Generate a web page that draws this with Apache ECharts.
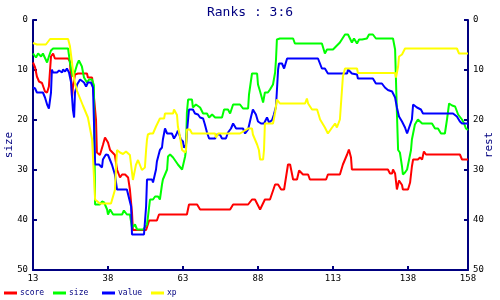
<!DOCTYPE html>
<html><head><meta charset="utf-8">
<script src="https://cdn.jsdelivr.net/npm/echarts@6/dist/echarts.min.js"></script>
<style>html,body{margin:0;padding:0;background:#fff}#c{width:500px;height:300px}</style>
</head><body><div id="c"></div>
<script>
const titleText = 'Ranks : 3:6';
const seriesNames = ['score', 'size', 'value', 'xp'];
const xTicks = [13, 38, 63, 88, 113, 138, 158];
const yTicks = [0, 10, 20, 30, 40, 50];

const scoreData = [[13,8.5],[13.7,9.5],[14.3,11.3],[15,12.3],[16,12.6],[16.3,12.6],[17,14.3],[17.7,14.5],[18.3,13.3],[19,7.3],[19.7,6.7],[20.3,7.7],[24.7,7.7],[25.3,8.3],[25.7,11.9],[26,15.5],[26.3,13.5],[27,10.9],[28,10.7],[31,10.7],[31.3,11.5],[32.7,11.5],[33,13.5],[33.3,15.3],[34,19.9],[34.3,26.5],[35.3,27],[36.3,25],[37,23.5],[38,24.5],[38.7,26],[40.3,27],[41,29.9],[42,31.5],[42.7,30.9],[43.7,30.9],[44.7,31.5],[45.3,33.9],[46,38.5],[46.3,42],[50.7,42],[51.3,41.9],[51.7,40.1],[54.3,40.1],[55,38.9],[64.3,38.9],[65,36.9],[67.7,36.9],[68.7,37.9],[78.7,37.9],[79.7,36.9],[84.7,36.9],[86,35.9],[87,35.9],[88.7,37.9],[90.3,35.9],[92,35.9],[93.7,32.9],[94.7,32.9],[95.7,33.9],[96.7,33.9],[98,28.9],[98.7,28.9],[99.7,31.9],[101,31.9],[101.7,30.1],[103,30.9],[104.7,30.9],[105.3,31.9],[110.7,31.9],[111.3,30.9],[115.3,30.9],[116.3,28.9],[117.7,26.9],[118.3,25.9],[119,27.5],[119.3,29.9],[131.3,29.9],[132,30.7],[132.7,30.7],[133,29.9],[133.7,30.7],[134.3,33.9],[135,32.1],[136,33],[136.3,33.9],[138,33.9],[138.7,32.5],[139.3,29.3],[139.7,27.9],[141.3,27.9],[142,27.5],[142.7,27.9],[143.3,26.3],[144,26.9],[155.3,26.9],[156,27.9],[158,27.9]];

const sizeData = [[13,6.7],[14,7.5],[14.7,6.7],[15.7,7.3],[16.3,6.7],[16.7,6.7],[17.7,8.5],[18.3,7.3],[19,6.1],[19.7,5.7],[24.7,5.7],[25.3,8.5],[26,10.5],[26.3,11.3],[27,10.3],[27.7,8.9],[28.3,8.1],[29.3,9.3],[30,11.5],[31,12.5],[31.7,11.9],[32.7,11.9],[33,12.5],[33.3,13],[33.7,36.9],[35.3,36.9],[36,36.3],[36.7,36.5],[37.7,37.9],[38,38.9],[38.7,37.9],[39.7,38.9],[42.7,38.9],[43.3,38.1],[44.3,38.9],[45.3,38.9],[46,41.5],[47,40.9],[47.7,41.9],[49.7,41.9],[50.3,41.5],[51,40.9],[51.3,39.5],[52,35.9],[53,35.9],[53.7,35.3],[54.7,35.3],[55.3,35.9],[56,32.9],[56.3,31.9],[57.7,29.9],[58,27.3],[58.7,26.9],[59.7,27.5],[61.3,28.9],[62.7,29.9],[63,29.9],[63.7,27.3],[64,25.9],[64.3,18.5],[64.7,15.9],[66,15.9],[66.3,17.5],[67.3,16.9],[67.7,16.7],[68.7,17.5],[69.7,18.7],[71,18.7],[71.7,19.5],[72.7,18.9],[73.7,19.5],[76,19.5],[76.7,17.9],[78,17.9],[78.7,18.7],[79.7,16.9],[82,16.9],[83,17.7],[84.7,17.7],[85,14.9],[86,10.7],[87.7,10.7],[88,12.9],[88.7,14.3],[89.7,16.5],[90.3,14.5],[91.3,14.5],[92,13.9],[93,12.9],[93.7,10.5],[94,7.9],[94.3,3.9],[95.3,3.7],[99.7,3.7],[100.3,4.7],[109.3,4.7],[110.3,6.7],[111,5.9],[113,5.9],[115.3,4.5],[117,2.9],[118,2.9],[119.3,4.5],[120,3.7],[121,4.7],[121.7,3.9],[122.7,3.9],[123.3,3.5],[124.3,3.7],[125,2.9],[126.3,2.9],[127.3,3.7],[133,3.7],[133.7,5.9],[134.3,18.5],[134.7,26],[135.3,26.5],[136,29.3],[136.3,30.9],[137,30.5],[137.7,29.9],[138.3,29.9],[139,26],[139.3,23.9],[140.3,20.9],[141.3,19.9],[142.7,20.7],[146,20.7],[147,21.7],[148,21.7],[149,22.7],[150.3,22.7],[151,19.9],[151.7,16.7],[152.7,17.1],[153.7,17.3],[154.7,18.9],[156,19.9],[156.7,20.7],[157.3,21.7],[158,22]];

const valueData = [[13,13.5],[13.7,13.7],[14.3,14.5],[16.3,14.5],[17,15.5],[17.7,16.9],[18.3,17.7],[19,14.5],[19.3,9.9],[19.7,10.5],[21,10.5],[21.7,10.1],[22.7,10.5],[23,9.9],[23.7,10.3],[24.3,9.7],[25,10.5],[25.7,12.5],[26,15.3],[26.3,17.9],[26.7,19.5],[27,14.5],[27.7,12.9],[28.7,11.9],[29.3,11.5],[30,12.5],[30.7,13.3],[31.3,12.5],[32.3,12.5],[33,13.5],[33.3,20],[33.7,28.9],[35,28.9],[36,29.5],[36.3,27.9],[37.3,26.9],[38,27],[39.3,28.9],[40.3,30.9],[41,33.9],[44.3,33.9],[44.7,34.3],[45.7,37.3],[46,42.9],[50,42.9],[50.7,37.3],[51,31.9],[52.7,31.9],[53,32.5],[54,29.9],[54.3,28.3],[55.3,26],[56,25.5],[56.3,23.9],[57,21.7],[57.7,22.7],[59.3,22.7],[60,23.7],[60.7,23],[61.3,22.1],[62.3,23.9],[63,24.3],[63.3,25.5],[64,25],[64.3,22.5],[64.7,19.9],[65,17.9],[66.3,17.9],[67,18.7],[68,18.9],[68.7,19.5],[69.7,19.7],[70.3,20.9],[71,22.5],[71.7,23.7],[73.7,23.7],[74.3,22.9],[75.3,22.9],[76,23.7],[77.3,23.7],[78,22.5],[79,21.7],[79.7,20.7],[80.7,21.7],[83,21.7],[83.7,22.7],[84.3,22.5],[84.7,21.9],[85.7,19.3],[86.3,17.9],[87.3,18.9],[88,20.3],[89,20.7],[90,20.7],[91,19.5],[91.7,20.5],[92.7,20],[93.3,18.9],[94,17.3],[94.7,9.9],[95,8.7],[96,8.7],[96.7,9.7],[97.7,7.7],[108,7.7],[109.3,9.7],[110.3,9.7],[111.3,10.7],[117.7,10.7],[118,9.9],[119.3,10.7],[121,10.9],[121.3,11.7],[126.3,11.7],[127.3,12.7],[129.3,12.7],[130.3,13.5],[131.3,14],[132.7,14.3],[133.7,15.5],[134.3,17.5],[135,19.3],[136,20.3],[137,21.5],[137.7,22.7],[138.3,22.7],[139.3,19.9],[139.7,16.9],[141,17.5],[142.3,17.9],[143,18.7],[153,18.7],[154.3,19.3],[155.3,20.3],[156,20.7],[158,20.7]];

const xpData = [[13,4.6],[14.3,4.9],[17.3,4.9],[18.7,3.8],[24.7,3.8],[25.3,5.2],[26,8.5],[26.7,11.9],[27.7,14.2],[29.7,17.2],[31.3,19.5],[32.7,23.9],[33.7,35.9],[35.3,36.7],[39,36.7],[40.3,34],[41,26],[42,26.5],[43,26.8],[44,26.3],[45.3,27],[46.3,32],[47.3,29],[48,28],[49.3,30],[50.3,29.5],[50.7,26],[51,23.9],[51.3,22.9],[52,22.7],[53,22.7],[54,21.3],[54.3,21.3],[55.3,19.7],[56.7,19.7],[57,18.7],[59.7,18.7],[60,17.9],[61,19],[61.3,21.3],[62,23.3],[62.7,26],[63.7,26.5],[64,26],[64.3,21.9],[65.3,21.9],[66,22.7],[73.7,22.7],[74,23.5],[74.7,22.7],[82,22.7],[84.7,21.7],[86,21.7],[86.3,22.9],[87.7,24.9],[88.3,26],[88.7,27.9],[89.7,27.9],[90,26],[90.3,20.7],[93,20.7],[93.7,18.5],[94.3,15.9],[95.3,16.7],[103.7,16.7],[104.3,15.7],[104.7,16.7],[106,17.9],[107.7,17.9],[108.7,19.9],[110.3,21.5],[111.3,22.7],[112.7,21.5],[113.7,20.7],[114.3,21.5],[115.3,19.9],[116.3,11.3],[117,9.7],[121,9.7],[121.3,10.6],[133.7,10.6],[134,11.5],[134.7,9.3],[135,7.3],[136,6.9],[137,5.7],[154.3,5.7],[155,6.7],[158,6.7]];

const seriesData = [scoreData, sizeData, valueData, xpData];
const colors = ['#ff0000', '#00ff00', '#0000ff', '#ffff00'];
const NAVY = '#000080';
const MONO = 'DejaVu Sans Mono';

function yAxis(name, pos) {
  return {
    type: 'value', position: pos, inverse: true, min: 0, max: 50, interval: 10,
    name: name, nameLocation: 'middle', nameGap: pos === 'left' ? 18 : 16, nameMoveOverlap: false,
    nameTextStyle: { color: NAVY, fontFamily: MONO, fontSize: 11 },
    axisLine: { show: true, onZero: false, lineStyle: { color: NAVY, width: 2 } },
    axisTick: { show: true, inside: true, length: 4, lineStyle: { color: NAVY, width: 2 } },
    axisLabel: { color: '#000', fontFamily: MONO, fontSize: 9, margin: 5 },
    splitLine: { show: false }
  };
}

const chart = echarts.init(document.getElementById('c'), null, { renderer: 'canvas' });
chart.setOption({
  animation: false,
  backgroundColor: '#fff',
  title: { text: titleText, left: 'center', top: 1, textStyle: { color: NAVY, fontFamily: MONO, fontSize: 13, fontWeight: 'normal' } },
  grid: { left: 33, right: 32, top: 20, bottom: 30, containLabel: false, outerBoundsMode: 'none' },
  xAxis: {
    type: 'value', min: 13, max: 158, position: 'bottom',
    axisLine: { show: true, onZero: false, lineStyle: { color: NAVY, width: 2 } },
    axisTick: { show: true, inside: true, length: 4, customValues: xTicks, lineStyle: { color: NAVY, width: 2 } },
    axisLabel: { color: '#000', fontFamily: MONO, fontSize: 9, margin: 4, customValues: xTicks, hideOverlap: false, showMinLabel: true, showMaxLabel: true },
    splitLine: { show: false }
  },
  yAxis: [yAxis('size', 'left'), yAxis('rest', 'right')],
  legend: seriesNames.map((n, i) => ({
    data: [n], left: 4 + 49 * i, top: 289, icon: 'rect', itemWidth: 13, itemHeight: 3, itemGap: 0,
    textStyle: { color: NAVY, fontFamily: MONO, fontSize: 8, padding: [0, 0, 0, -2] }, padding: 0
  })),
  series: seriesNames.map((n, i) => ({
    name: n, type: 'line', data: seriesData[i], showSymbol: false, symbol: 'none',
    color: colors[i], lineStyle: { color: colors[i], width: 2 }, z: 2 + i
  }))
});
</script></body></html>
